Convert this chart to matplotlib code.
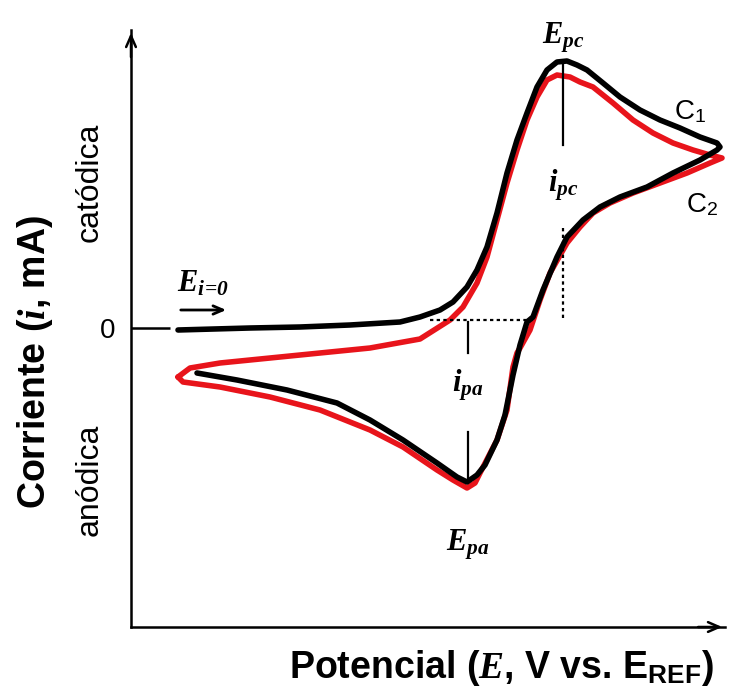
import numpy as np
import matplotlib
matplotlib.use("Agg")
import matplotlib.pyplot as plt

plt.rcParams['font.family'] = ['Liberation Sans', 'DejaVu Sans']
plt.rcParams['mathtext.fontset'] = 'custom'
plt.rcParams['mathtext.rm'] = 'Liberation Serif:italic:bold'
plt.rcParams['mathtext.it'] = 'Liberation Serif:italic:bold'
plt.rcParams['mathtext.sf'] = 'Liberation Sans'
plt.rcParams['mathtext.bf'] = 'Liberation Sans:bold'

# potential and current (arbitrary units)
# C1 (black): first cycle, starting at E(i=0)
c1_fwd_E = [178, 250, 300, 350, 400, 420, 440, 453, 467, 477, 487, 497, 507, 517, 527, 537, 547, 557, 567,
            577, 587, 603, 620, 640, 660, 680, 700, 717, 720]
c1_fwd_i = [-2, 0, 1, 3, 6, 11, 18, 26, 41, 58, 81, 115, 155, 188, 215, 241, 258, 266, 267,
            263, 258, 245, 231, 218, 208, 200, 191, 185, 181]
c1_rev_E = [720, 717, 700, 673, 647, 620, 600, 583, 567, 557, 543, 533, 527, 520, 513, 505, 497, 485, 477,
            467, 457, 437, 403, 370, 337, 287, 237, 197]
c1_rev_i = [181, 178, 168, 155, 141, 131, 121, 108, 91, 71, 38, 11, 6, -17, -47, -87, -112, -137, -147,
            -154, -149, -135, -112, -92, -75, -62, -52, -45]

# C2 (red): second cycle, closed loop
c2_fwd_E = [178, 190, 220, 270, 320, 370, 420, 450, 463, 477, 487, 497, 507, 517, 527, 537, 547, 557, 570,
            580, 593, 613, 633, 653, 673, 693, 710, 722]
c2_fwd_i = [-49, -40, -35, -30, -25, -20, -11, 8, 21, 45, 71, 108, 145, 178, 208, 231, 248, 253, 251,
            246, 241, 225, 208, 195, 185, 178, 173, 170]
c2_rev_E = [722, 710, 687, 660, 633, 610, 593, 580, 567, 550, 540, 530, 520, 517, 513, 507, 497, 480, 475,
            467, 453, 437, 403, 370, 320, 270, 220, 183, 178]
c2_rev_i = [170, 165, 155, 145, 135, 125, 115, 101, 85, 55, 28, -2, -20, -25, -39, -82, -112, -145, -155,
            -160, -152, -142, -119, -102, -82, -69, -59, -54, -49]

# peak markers
E_pc, E_pa = 563, 468
i_pc_top, i_pc_bot = 266, 183
i_pa_top, i_pa_mid1, i_pa_mid2, i_pa_bot = 6, -25, -104, -154
base_i = 8
base_E0, base_E1 = 430, 533
dot_top = 100

fig = plt.figure(figsize=(7.31, 6.91), dpi=100)
ax = fig.add_axes([131 / 731, 64 / 691, 594 / 731, 597 / 691])
ax.set_xlim(131, 725)
ax.set_ylim(-299, 298)

ax.plot(c2_fwd_E + c2_rev_E, c2_fwd_i + c2_rev_i, color='#e8141b', lw=4,
        solid_joinstyle='round', solid_capstyle='round', zorder=3)
ax.plot(c1_fwd_E + c1_rev_E, c1_fwd_i + c1_rev_i, color='black', lw=4,
        solid_joinstyle='round', solid_capstyle='round', zorder=4)

# peak lines
ax.plot([E_pc, E_pc], [i_pc_top, i_pc_bot], color='black', lw=1.6, zorder=5)
ax.plot([E_pc, E_pc], [dot_top, base_i], color='black', lw=1.6, ls=(0, (1.5, 1.5)), zorder=5)
ax.plot([base_E0, base_E1], [base_i, base_i], color='black', lw=1.6, ls=(0, (1.5, 1.5)), zorder=5)
ax.plot([E_pa, E_pa], [i_pa_top, i_pa_mid1], color='black', lw=1.6, zorder=5)
ax.plot([E_pa, E_pa], [i_pa_mid2, i_pa_bot], color='black', lw=1.6, zorder=5)

# labels in the plot
ax.text(E_pc, 290, r'$E_{pc}$', fontsize=22, ha='center', va='center')
ax.text(E_pc, 143, r'$i_{pc}$', fontsize=22, ha='center', va='center')
ax.text(E_pa, -57, r'$i_{pa}$', fontsize=22, ha='center', va='center')
ax.text(E_pa, -217, r'$E_{pa}$', fontsize=22, ha='center', va='center')
ax.text(203, 45, r'$E_{i\!=\!0}$', fontsize=22, ha='center', va='center')
ax.annotate('', xy=(229, 18), xytext=(178, 18),
            arrowprops=dict(arrowstyle='->,head_length=0.7,head_width=0.3', lw=2, color='black'))
ax.text(690, 216, r'C$_{\mathsf{1}}$', fontsize=20, ha='center', va='center')
ax.text(702, 123, r'C$_{\mathsf{2}}$', fontsize=20, ha='center', va='center')

# axes
for s in ['top', 'right']:
    ax.spines[s].set_visible(False)
for s in ['left', 'bottom']:
    ax.spines[s].set_linewidth(1.8)
ax.set_xticks([])
ax.set_yticks([0])
ax.set_yticklabels(['0'], fontsize=20)
ax.tick_params(axis='y', direction='in', length=28, width=1.8, pad=11)
ax.annotate('', xy=(0, 1.0), xytext=(0, 0.95), xycoords='axes fraction',
            arrowprops=dict(arrowstyle='->,head_length=0.8,head_width=0.35', lw=1.8, color='black'))
ax.annotate('', xy=(1.0, 0), xytext=(0.95, 0), xycoords='axes fraction',
            arrowprops=dict(arrowstyle='->,head_length=0.8,head_width=0.35', lw=1.8, color='black'))

fig.text(90 / 731, 1 - 182 / 691, 'catódica', rotation=90, fontsize=23, ha='center', va='center')
fig.text(90 / 731, 1 - 480 / 691, 'anódica', rotation=90, fontsize=23, ha='center', va='center')
fig.text(35 / 731, 1 - 362 / 691, r'Corriente ($i$, mA)', rotation=90, fontsize=27,
         fontweight='bold', ha='center', va='center')
fig.text(501 / 731, 1 - 668 / 691, r'Potencial ($E$, V vs. E$_{\mathbf{REF}}$)', fontsize=27,
         fontweight='bold', ha='center', va='center')

fig.savefig('out.png', dpi=100)
